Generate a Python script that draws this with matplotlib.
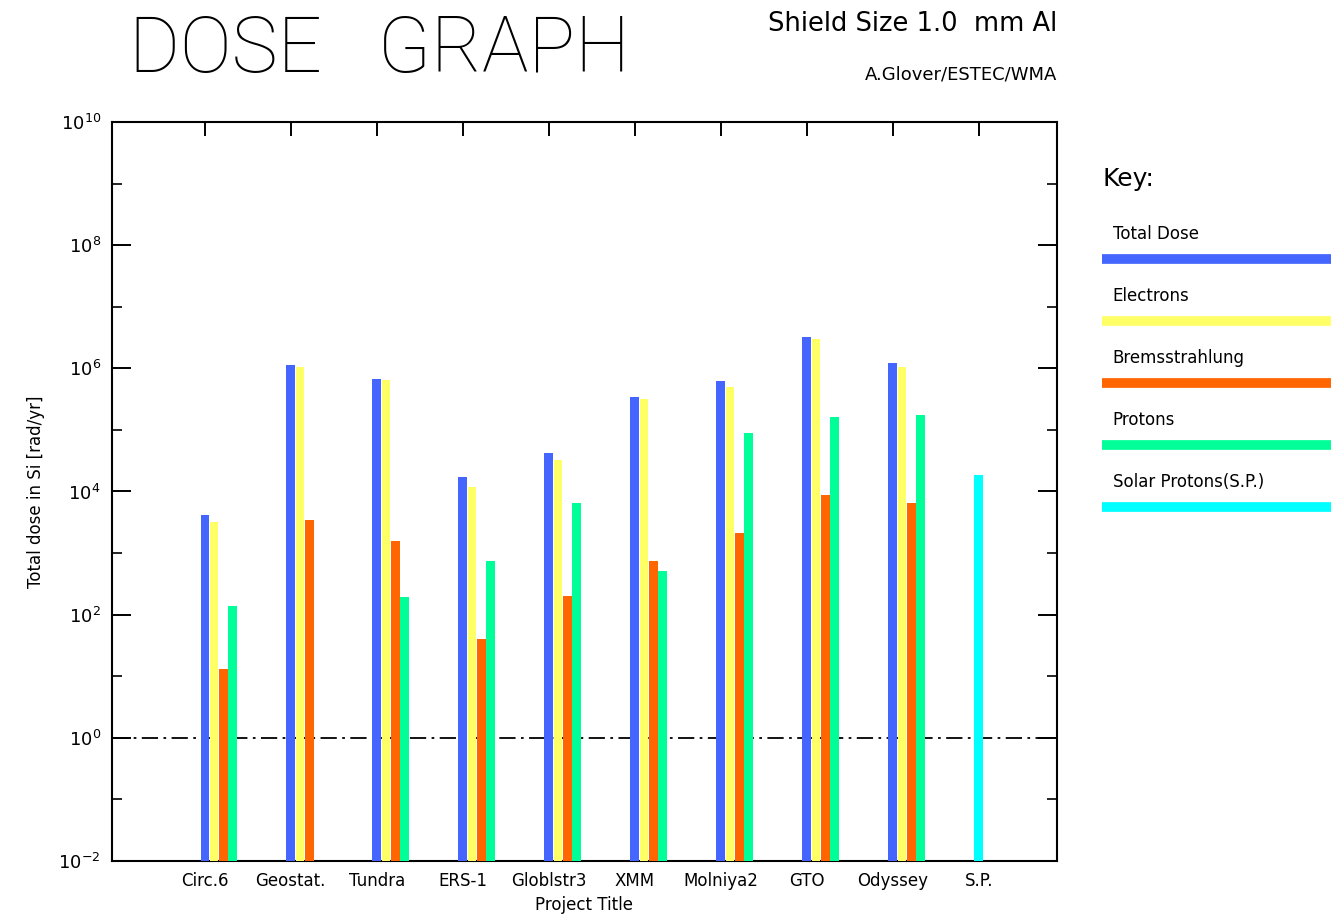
import numpy as np
import matplotlib
matplotlib.use("Agg")
import matplotlib.pyplot as plt
from matplotlib.lines import Line2D
from matplotlib.ticker import FixedLocator, LogFormatterMathtext, NullFormatter

# data (rad/yr, 1.0 mm Al shield)
projects = ["Circ.6", "Geostat.", "Tundra", "ERS-1", "Globlstr3",
            "XMM", "Molniya2", "GTO", "Odyssey", "S.P."]
total_dose = [4.1e3, 1.12e6, 6.6e5, 1.7e4, 4.2e4, 3.4e5, 6.2e5, 3.2e6, 1.2e6, np.nan]
electrons = [3.2e3, 1.04e6, 6.5e5, 1.17e4, 3.3e4, 3.16e5, 4.9e5, 2.95e6, 1.04e6, np.nan]
bremsstrahlung = [13, 3.5e3, 1.55e3, 40, 200, 740, 2.1e3, 8.7e3, 6.4e3, np.nan]
protons = [140, np.nan, 190, 740, 6.4e3, 510, 8.9e4, 1.6e5, 1.75e5, np.nan]
solar_protons = [np.nan] * 9 + [1.85e4]

series = [total_dose, electrons, bremsstrahlung, protons, solar_protons]
names = ["Total Dose", "Electrons", "Bremsstrahlung", "Protons", "Solar Protons(S.P.)"]
colors = ["#4466ff", "#ffff66", "#ff6600", "#00ff99", "#00ffff"]
slots = [0, 1, 2, 3, 0]  # solar protons sit in the first slot

plt.rcParams['font.family'] = ['DejaVu Sans']

fig = plt.figure(figsize=(13.31, 9.17), dpi=100)
ax = fig.add_axes([0.0841, 0.0611, 0.7100, 0.8059])

x = np.arange(1, len(projects) + 1)
w = 0.1
step = 0.108
for vals, c, s in zip(series, colors, slots):
    v = np.array(vals, dtype=float)
    ax.bar(x + s * step, v - 1e-2, bottom=1e-2, width=w, color=c,
           align='center', zorder=3, linewidth=0)

ax.set_yscale('log')
ax.set_ylim(1e-2, 1e10)
ax.set_xlim(-0.08, 10.91)

# dash-dot reference at 1 rad/yr
ax.axhline(1, color='black', lw=1.3, linestyle=(0, (9, 3, 1.5, 3)), zorder=2)

ax.yaxis.set_major_locator(FixedLocator([10.0**k for k in range(-2, 11, 2)]))
ax.yaxis.set_minor_locator(FixedLocator([10.0**k for k in range(-1, 10, 2)]))
ax.yaxis.set_major_formatter(LogFormatterMathtext())
ax.yaxis.set_minor_formatter(NullFormatter())
ax.tick_params(axis='y', which='major', direction='in', length=14, width=1.4,
               right=True, labelsize=13, pad=8)
ax.tick_params(axis='y', which='minor', direction='in', length=7, width=1.2, right=True)

ax.set_xticks(x)
ax.set_xticklabels(projects)
ax.tick_params(axis='x', direction='in', bottom=False, top=True, length=10,
               width=1.4, labelsize=12, pad=8)

for sp in ax.spines.values():
    sp.set_linewidth(1.5)

ax.set_xlabel("Project Title", fontsize=12, labelpad=4)
ax.set_ylabel("Total dose in Si [rad/yr]", fontsize=12, labelpad=10)

# header texts
fig.text(0.097, 0.922, "DOSE   GRAPH", fontsize=56, family='Roboto',
         fontweight=100, ha='left', va='baseline')
fig.text(0.794, 0.966, "Shield Size 1.0  mm Al", fontsize=18.5, ha='right', va='baseline')
fig.text(0.794, 0.913, "A.Glover/ESTEC/WMA", fontsize=13, ha='right', va='baseline')

# key on the right
fig.text(0.828, 0.797, "Key:", fontsize=18, ha='left', va='baseline')
for k, (n, c) in enumerate(zip(names, colors)):
    ly = 0.718 - k * 0.0676
    fig.text(0.836, ly + 0.021, n, fontsize=12, ha='left', va='baseline')
    fig.add_artist(Line2D([0.828, 1.0], [ly, ly], color=c, lw=7, solid_capstyle='butt'))

fig.savefig("out.png", dpi=100)
